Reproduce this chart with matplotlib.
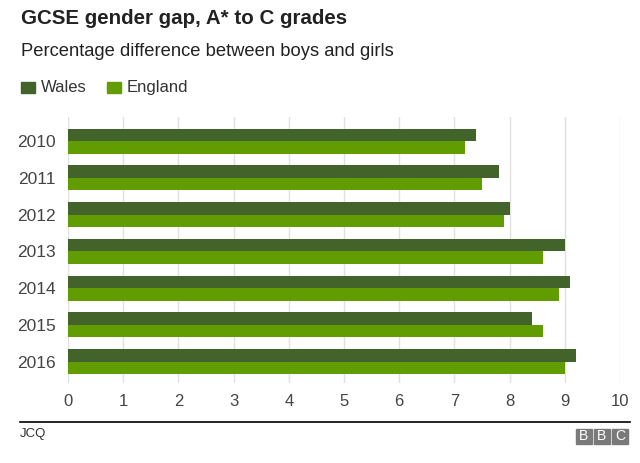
import numpy as np
import matplotlib.pyplot as plt
from matplotlib.patches import Rectangle

years = ["2010", "2011", "2012", "2013", "2014", "2015", "2016"]
wales = [7.4, 7.8, 8.0, 9.0, 9.1, 8.4, 9.2]
england = [7.2, 7.5, 7.9, 8.6, 8.9, 8.6, 9.0]

color_wales = "#426329"
color_england = "#619c00"

plt.rcParams['font.family'] = ['Liberation Sans', 'DejaVu Sans']

fig = plt.figure(figsize=(6.4, 4.63), dpi=100)
ax = fig.add_axes([68 / 640, 1 - 383 / 463, 552 / 640, 266 / 463])

y = np.arange(len(years))
h = 0.34
ax.barh(y - h / 2, wales, height=h, color=color_wales, zorder=3)
ax.barh(y + h / 2, england, height=h, color=color_england, zorder=3)

ax.set_xlim(0, 10)
ax.set_ylim(len(years) - 0.42, -0.66)
ax.set_xticks(range(11))
ax.set_yticks(y)
ax.set_yticklabels(years)
ax.grid(axis="x", color="#e0e0e0", linewidth=1, zorder=0)
ax.tick_params(axis="both", length=0, colors="#444444")
ax.tick_params(axis="x", pad=8, labelsize=12)
ax.tick_params(axis="y", pad=9, labelsize=12.5)
for s in ax.spines.values():
    s.set_visible(False)

# titles
fig.text(21 / 640, 1 - 19 / 463, "GCSE gender gap, A* to C grades",
         fontsize=14.8, fontweight="bold", color="#222222", va="center")
fig.text(21 / 640, 1 - 51 / 463, "Percentage difference between boys and girls",
         fontsize=13.2, color="#222222", va="center")

# legend
for x0, col, lab in [(21, color_wales, "Wales"), (107, color_england, "England")]:
    fig.patches.append(Rectangle((x0 / 640, 1 - 93 / 463), 14 / 640, 11 / 463,
                                 transform=fig.transFigure, color=col))
    fig.text((x0 + 20) / 640, 1 - 87.5 / 463, lab, fontsize=12,
             color="#333333", va="center")

# footer
fig.add_artist(plt.Line2D([20 / 640, 630 / 640], [1 - 422 / 463, 1 - 422 / 463],
                          color="black", linewidth=1.2, transform=fig.transFigure))
fig.text(20 / 640, 1 - 434 / 463, "JCQ", fontsize=9.5, color="#333333", va="center")
for i, letter in enumerate("BBC"):
    x0 = 576 + i * 18
    fig.patches.append(Rectangle((x0 / 640, 1 - 444 / 463), 16 / 640, 15 / 463,
                                 transform=fig.transFigure, color="#7a7a7a"))
    fig.text((x0 + 8) / 640, 1 - 436.5 / 463, letter, fontsize=10, color="white",
             ha="center", va="center")

fig.savefig("out.png", dpi=100, facecolor="white")
